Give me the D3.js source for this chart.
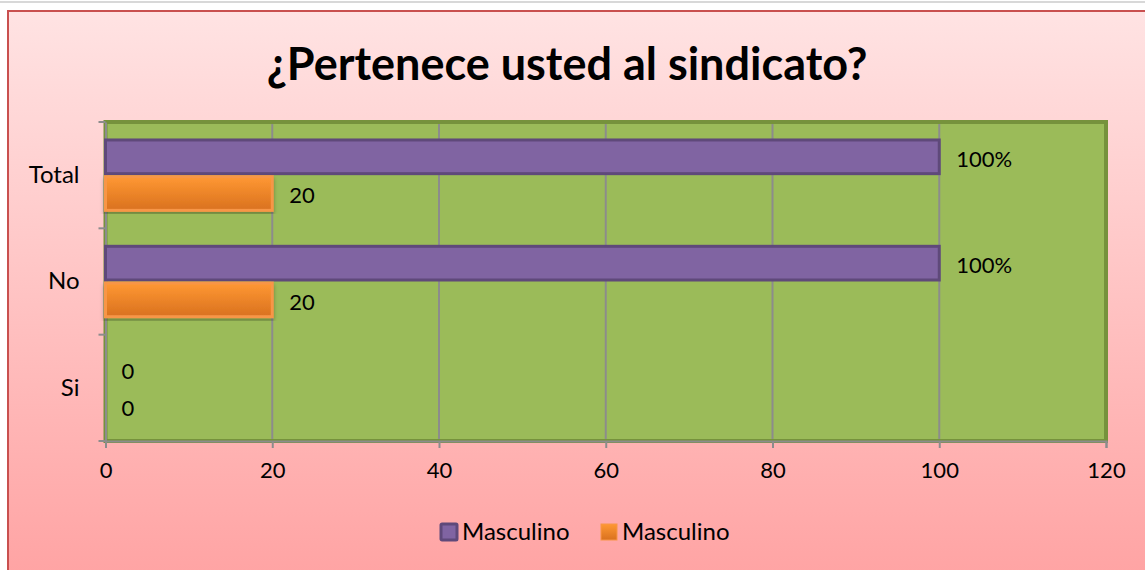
<!DOCTYPE html>
<html>
<head>
<meta charset="utf-8">
<script src="https://cdn.jsdelivr.net/npm/d3@7"></script>
<style>
  body { margin: 0; background: #fff; }
  svg { display: block; font-family: Lato, "Open Sans", sans-serif; }
</style>
</head>
<body>
<svg id="chart" width="1145" height="570"></svg>
<script>
// chart data
var categories = ["Total", "No", "Si"];
var seriesNames = ["Masculino", "Masculino"];
var purpleValues = [100, 100, 0];
var orangeValues = [20, 20, 0];
var purpleLabels = ["100%", "100%", "0"];
var orangeLabels = ["20", "20", "0"];
var xTicks = [0, 20, 40, 60, 80, 100, 120];

!(function () {

var svg = d3.select("#chart"),
  width = +svg.attr("width"),
  height = +svg.attr("height");

var defs = svg.append("defs");

var bg = defs.append("linearGradient").attr("id", "bg")
  .attr("x1", 0).attr("y1", 0).attr("x2", 0).attr("y2", 1);
bg.append("stop").attr("offset", "0%").attr("stop-color", "#ffe3e3");
bg.append("stop").attr("offset", "100%").attr("stop-color", "#ffa3a3");

var og = defs.append("linearGradient").attr("id", "orange")
  .attr("x1", 0).attr("y1", 0).attr("x2", 0).attr("y2", 1);
og.append("stop").attr("offset", "0%").attr("stop-color", "#ff9833");
og.append("stop").attr("offset", "100%").attr("stop-color", "#d9711f");

defs.append("filter").attr("id", "shadow")
  .append("feDropShadow").attr("dx", 0).attr("dy", 3).attr("stdDeviation", 2)
  .attr("flood-color", "#000").attr("flood-opacity", 0.3);

// top page rule and chart frame
svg.append("line").attr("x1", 0).attr("x2", width).attr("y1", 2).attr("y2", 2)
  .attr("stroke", "#d8d8d8").attr("stroke-width", 2);
svg.append("rect").attr("x", 8).attr("y", 11).attr("width", width).attr("height", height)
  .attr("fill", "url(#bg)").attr("stroke", "#c9504f").attr("stroke-width", 2);

svg.append("text").attr("x", 567).attr("y", 80).attr("text-anchor", "middle")
  .attr("font-size", 45).attr("font-weight", "bold").attr("fill", "#000")
  .text("¿Pertenece usted al sindicato?");

var pLeft = 105.5, pRight = 1106, pTop = 122, pBottom = 441;

var x = d3.scaleLinear().domain([0, 120]).range([pLeft, pRight]);
var y = d3.scaleBand().domain(categories).range([pTop, pBottom])
  .paddingInner(0.31).paddingOuter(0.155);
var ySub = d3.scaleBand().domain([0, 1]).range([0, y.bandwidth()]);

// plot area
svg.append("rect").attr("x", pLeft).attr("y", pTop)
  .attr("width", pRight - pLeft).attr("height", pBottom - pTop)
  .attr("fill", "#9bbb59");

svg.append("g").selectAll("line").data(xTicks.slice(1, -1)).enter().append("line")
  .attr("x1", function (d) { return x(d); }).attr("x2", function (d) { return x(d); })
  .attr("y1", pTop).attr("y2", pBottom)
  .attr("stroke", "#8c8c8c").attr("stroke-width", 2);

svg.append("rect").attr("x", pLeft).attr("y", pTop)
  .attr("width", pRight - pLeft).attr("height", pBottom - pTop)
  .attr("fill", "none").attr("stroke", "#76923c").attr("stroke-width", 4);

// axes
var xAxis = svg.append("g").attr("transform", "translate(0," + pBottom + ")")
  .call(d3.axisBottom(x).tickValues(xTicks).tickSize(7).tickPadding(14));
var yAxis = svg.append("g").attr("transform", "translate(" + pLeft + ",0)")
  .call(d3.axisLeft(y).tickSize(0).tickPadding(26));
[xAxis, yAxis].forEach(function (a) {
  a.select(".domain").attr("stroke", "#8c8c8c").attr("stroke-width", 2);
  a.selectAll(".tick line").attr("stroke", "#8c8c8c").attr("stroke-width", 2);
  a.selectAll("text").attr("font-size", 22).attr("fill", "#000")
    .attr("font-family", "Lato, 'Open Sans', sans-serif");
});
yAxis.selectAll("text").attr("font-size", 24);
// y ticks at band boundaries
svg.append("g").selectAll("line")
  .data(d3.range(categories.length + 1)).enter().append("line")
  .attr("x1", pLeft - 7).attr("x2", pLeft)
  .attr("y1", function (i) { return pTop + i * (pBottom - pTop) / categories.length; })
  .attr("y2", function (i) { return pTop + i * (pBottom - pTop) / categories.length; })
  .attr("stroke", "#8c8c8c").attr("stroke-width", 2);

// bars
var series = [
  { values: purpleValues, labels: purpleLabels, fill: "#8064a2", stroke: "#5f497a", filter: null },
  { values: orangeValues, labels: orangeLabels, fill: "url(#orange)", stroke: "#f79646", filter: "url(#shadow)" }
];

series.forEach(function (s, si) {
  var g = svg.append("g");
  g.selectAll("rect").data(categories).enter()
    .filter(function (c, i) { return s.values[i] > 0; })
    .append("rect")
    .attr("x", x(0))
    .attr("y", function (c) { return y(c) + ySub(si) + 1.5; })
    .attr("width", function (c) { return x(s.values[categories.indexOf(c)]) - x(0); })
    .attr("height", ySub.bandwidth() - 3)
    .attr("fill", s.fill).attr("stroke", s.stroke).attr("stroke-width", 3)
    .attr("filter", s.filter);
  g.selectAll("text").data(categories).enter().append("text")
    .attr("x", function (c, i) { return x(s.values[i]) + (s.values[i] > 0 ? 17 : 16); })
    .attr("y", function (c) { return y(c) + ySub(si) + ySub.bandwidth() / 2 + 2; })
    .attr("dy", "0.35em")
    .attr("font-size", 22).attr("fill", "#000")
    .text(function (c, i) { return s.labels[i]; });
});

// legend
var legend = svg.append("g").attr("transform", "translate(440,523)");
legend.append("rect").attr("x", 1).attr("y", 1).attr("width", 16).attr("height", 16).attr("rx", 1)
  .attr("fill", "#8064a2").attr("stroke", "#5f497a").attr("stroke-width", 3);
legend.append("text").attr("x", 22).attr("y", 9).attr("dy", "0.35em")
  .attr("font-size", 24).text(seriesNames[0]);
legend.append("rect").attr("x", 161).attr("y", 1).attr("width", 16).attr("height", 16)
  .attr("fill", "url(#orange)").attr("stroke", "#f79646").attr("stroke-width", 1);
legend.append("text").attr("x", 182).attr("y", 9).attr("dy", "0.35em")
  .attr("font-size", 24).text(seriesNames[1]);

})();
</script>
</body>
</html>
